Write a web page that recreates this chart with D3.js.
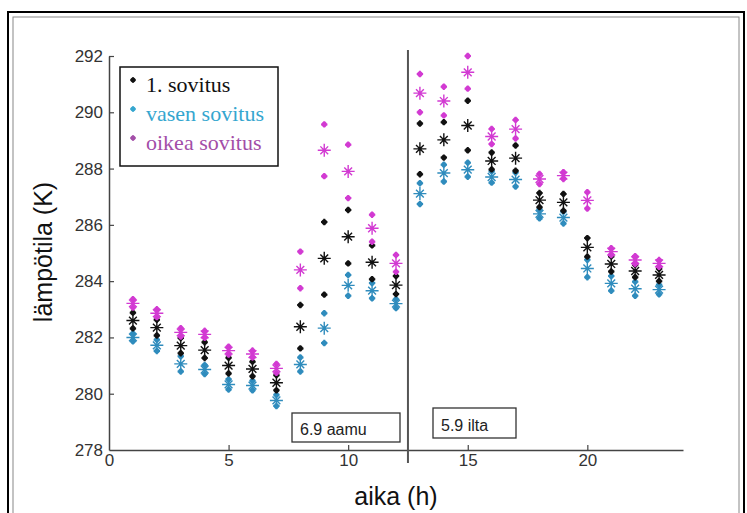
<!DOCTYPE html>
<html>
<head>
<meta charset="utf-8">
<script src="https://cdn.jsdelivr.net/npm/d3@7.9.0/dist/d3.min.js"></script>
<style>
  body { margin: 0; background: #fff; }
  svg { display: block; }
  .tick text { font-family: Arial, "Liberation Sans", sans-serif; font-size: 17px; fill: #333; }
</style>
</head>
<body>
<svg id="chart" width="747" height="513"></svg>
<script>
const hours = d3.range(1, 24);

// 1. sovitus (black)
const fit1 = [282.60, 282.35, 281.71, 281.55, 281.00, 280.88, 280.39, 282.38, 284.81, 285.58, 284.67, 283.86,
  288.70, 289.02, 289.53, 288.27, 288.37, 286.88, 286.80, 285.20, 284.61, 284.36, 284.22];
const fit1Err = [0.28, 0.28, 0.27, 0.28, 0.28, 0.26, 0.27, 0.77, 1.29, 0.95, 0.60, 0.32,
  0.90, 0.63, 0.88, 0.30, 0.45, 0.25, 0.30, 0.33, 0.27, 0.22, 0.22];

// vasen sovitus (blue)
const leftFit = [282.00, 281.72, 281.06, 280.86, 280.33, 280.29, 279.76, 281.04, 282.33, 283.85, 283.66, 283.20,
  287.11, 287.84, 287.96, 287.70, 287.61, 286.39, 286.26, 284.45, 283.92, 283.73, 283.70];
const leftErr = [0.14, 0.20, 0.27, 0.16, 0.18, 0.17, 0.20, 0.25, 0.53, 0.37, 0.27, 0.16,
  0.37, 0.30, 0.25, 0.20, 0.25, 0.16, 0.21, 0.31, 0.26, 0.25, 0.17];

// oikea sovitus (magenta)
const rightFit = [283.21, 282.86, 282.18, 282.11, 281.53, 281.41, 280.90, 284.40, 288.65, 287.90, 285.88, 284.63,
  290.68, 290.40, 291.42, 289.14, 289.40, 287.63, 287.75, 286.87, 285.05, 284.75, 284.63];
const rightErr = [0.15, 0.14, 0.15, 0.12, 0.14, 0.12, 0.16, 0.65, 0.92, 0.95, 0.48, 0.30,
  0.68, 0.51, 0.58, 0.27, 0.33, 0.18, 0.12, 0.29, 0.12, 0.14, 0.12];

const legendLabels = ['1. sovitus', 'vasen sovitus', 'oikea sovitus'];
const xTicks = [0, 5, 10, 15, 20];
const yTicks = [278, 280, 282, 284, 286, 288, 290, 292];
const splitHour = 12.5;

const series = [
  { name: legendLabels[1], values: leftFit, err: leftErr, color: '#2f8cbd', text: '#35a6cf' },
  { name: legendLabels[0], values: fit1, err: fit1Err, color: '#111', text: '#111' },
  { name: legendLabels[2], values: rightFit, err: rightErr, color: '#d23ad2', text: '#a34ea8' },
];

const svg = d3.select('#chart');

// double frame around the figure
svg.append('rect').attr('x', 8).attr('y', 12).attr('width', 736).attr('height', 520)
  .attr('fill', 'none').attr('stroke', '#000').attr('stroke-width', 2);
svg.append('rect').attr('x', 13).attr('y', 17).attr('width', 726).attr('height', 510)
  .attr('fill', 'none').attr('stroke', '#888').attr('stroke-width', 1);

const x = d3.scaleLinear().domain([0, 24]).range([109, 683]);
const y = d3.scaleLinear().domain([278, 292]).range([450, 56]);

const xAxis = svg.append('g')
  .attr('transform', `translate(0,${y(278)})`)
  .call(d3.axisBottom(x).tickValues(xTicks).tickSize(-5).tickSizeOuter(0).tickPadding(4));
const yAxis = svg.append('g')
  .attr('transform', `translate(${x(0)},0)`)
  .call(d3.axisLeft(y).tickValues(yTicks).tickSize(-5).tickSizeOuter(0).tickPadding(6));
[xAxis, yAxis].forEach(g => {
  g.select('.domain').attr('stroke', '#444').attr('stroke-width', 1.5);
  g.selectAll('.tick line').attr('stroke', '#444').attr('stroke-width', 1.2);
});
xAxis.selectAll('.tick').filter(d => d === 0).select('line').remove();
yAxis.selectAll('.tick').filter(d => d === 278).select('line').remove();

// morning / evening split
svg.append('line')
  .attr('x1', x(splitHour)).attr('x2', x(splitHour))
  .attr('y1', 50).attr('y2', 463)
  .attr('stroke', '#555').attr('stroke-width', 2);

function annotation(x0, y0, w, h, label) {
  svg.append('rect').attr('x', x0).attr('y', y0).attr('width', w).attr('height', h)
    .attr('fill', '#fff').attr('stroke', '#333').attr('stroke-width', 1.3);
  svg.append('text').attr('x', x0 + 8).attr('y', y0 + h - 7)
    .attr('font-family', 'Arial, sans-serif').attr('font-size', 16).attr('fill', '#222')
    .text(label);
}
annotation(292, 413, 108, 29, '6.9 aamu');
annotation(433, 408, 83, 30, '5.9 ilta');

// asterisk markers
function bigStar(s) {
  return `M0,${-s}V${s}M${-s},0H${s}M${-s * 0.6},${-s * 0.6}L${s * 0.6},${s * 0.6}M${-s * 0.6},${s * 0.6}L${s * 0.6},${-s * 0.6}`;
}

const marks = svg.append('g');
series.forEach(s => {
  const g = marks.append('g');
  const pts = hours.map((h, i) => ({ h, v: s.values[i], e: s.err[i] }));
  // bounds as small blobs
  pts.forEach(p => {
    [p.v + p.e, p.v - p.e].forEach(b => {
      g.append('path')
        .attr('transform', `translate(${x(p.h)},${y(b)})`)
        .attr('d', bigStar(3.2))
        .attr('stroke', s.color).attr('stroke-width', 2).attr('fill', 'none');
    });
  });
  g.selectAll('path.center')
    .data(pts)
    .join('path')
    .attr('class', 'center')
    .attr('transform', d => `translate(${x(d.h)},${y(d.v)})`)
    .attr('d', bigStar(6.5))
    .attr('stroke', s.color).attr('stroke-width', 1.4).attr('fill', 'none');
});

// legend
const legend = svg.append('g');
legend.append('rect').attr('x', 120).attr('y', 67).attr('width', 158).attr('height', 99)
  .attr('fill', '#fff').attr('stroke', '#111').attr('stroke-width', 1.5);
[series[1], series[0], series[2]].forEach((s, i) => {
  const base = 92 + i * 29;
  legend.append('path')
    .attr('transform', `translate(133,${base - 12})`)
    .attr('d', bigStar(3))
    .attr('stroke', s.color === '#111' ? '#111' : s.text).attr('stroke-width', 1.6);
  legend.append('text').attr('x', 146).attr('y', base)
    .attr('font-family', '"Liberation Serif", "Times New Roman", serif').attr('font-size', 22)
    .attr('fill', s.text).text(s.name);
});

// axis titles
svg.append('text')
  .attr('transform', 'translate(52,252) rotate(-90)')
  .attr('text-anchor', 'middle')
  .attr('font-family', 'Arial, sans-serif').attr('font-size', 25).attr('fill', '#111')
  .text('lämpötila (K)');
svg.append('text')
  .attr('x', 396).attr('y', 505)
  .attr('text-anchor', 'middle')
  .attr('font-family', 'Arial, sans-serif').attr('font-size', 25).attr('fill', '#111')
  .text('aika (h)');
</script>
</body>
</html>
